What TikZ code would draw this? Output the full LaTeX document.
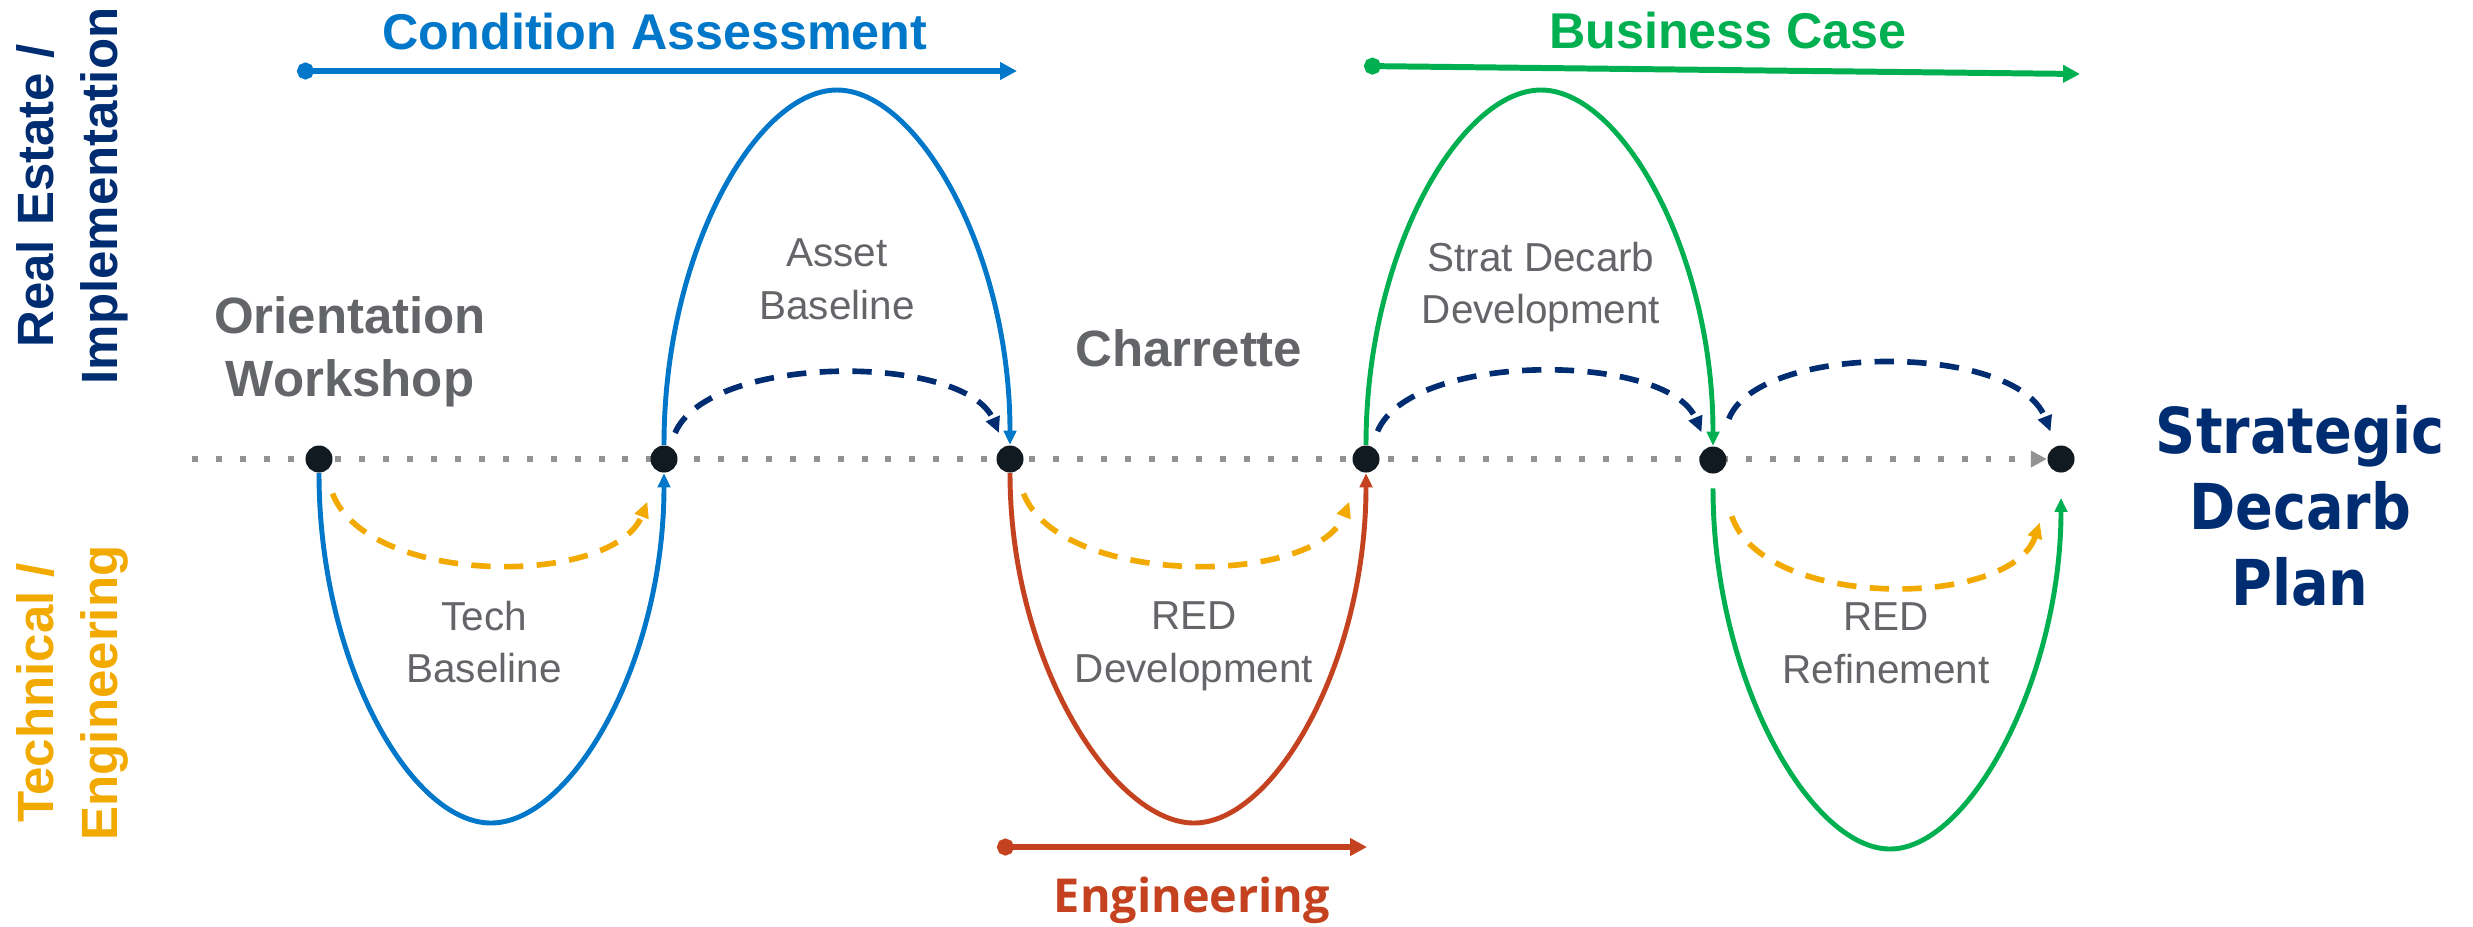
\documentclass[tikz,border=0pt]{standalone}
\usepackage{fontspec}
\setmainfont{Liberation Sans}
\newfontfamily\planfont{DejaVu Sans}[FakeStretch=0.88]
\newfontfamily\engfont{Open Sans}
\usetikzlibrary{arrows.meta, calc, backgrounds}

\definecolor{navyblue}{HTML}{002D72}
\definecolor{ourblue}{HTML}{0077C8}
\definecolor{ourgreen}{HTML}{00B050}
\definecolor{ourred}{HTML}{C4421F}
\definecolor{ourorange}{HTML}{F2A900}
\definecolor{labelgray}{HTML}{636569}
\definecolor{dotgray}{HTML}{121A21}
\definecolor{axisgray}{HTML}{929292}

\begin{document}
\begin{tikzpicture}[
  x=0.01cm, y=-0.01cm,
  dot/.style = {circle, fill=dotgray, inner sep=0pt, minimum size=0.27cm},
  phase/.style = {font=\fontsize{14.3}{17}\selectfont\bfseries},
  milestone/.style = {align=center, text=labelgray, font=\fontsize{14.5}{18}\selectfont\bfseries},
  sublabel/.style = {align=center, text=labelgray, font=\fontsize{11.5}{15}\selectfont},
  side/.style = {rotate=90, align=center, font=\fontsize{14.5}{18.2}\selectfont\bfseries},
  track/.style = {line width=1.7pt, {Circle[length=4.8pt]}-{Triangle[length=4.8pt,width=4.8pt]}},
  swing/.style = {line width=1.4pt, -{Triangle[length=4pt,width=3.5pt]}},
  hop/.style = {line width=1.6pt, dash pattern=on 5.5pt off 3.8pt, -{Triangle[length=4.5pt,width=4pt]}},
  timeline/.style = {draw=axisgray, line width=1.7pt, dash pattern=on 1.7pt off 5.1pt, -{Triangle[length=4.5pt,width=4.5pt]}}
]
\useasboundingbox (0,0) rectangle (2473,926);

% Side labels
\node[side, text=navyblue] (re) at (72,196) {Real Estate /\\Implementation};
\node[side, text=ourorange] (te) at (72,693) {Technical /\\Engineering};

% Milestones on the timeline
\node[dot] (d1) at (319,459) {};
\node[dot] (d2) at (664,459) {};
\node[dot] (d3) at (1010,459) {};
\node[dot] (d4) at (1366,459) {};
\node[dot] (d5) at (1713,460) {};
\node[dot] (d6) at (2061,459) {};

\node[milestone] (ow) at (350,352) {Orientation\\Workshop};
\node[milestone, anchor=base] (ch) at (1189,366) {Charrette};
\node[align=center, text=navyblue, font=\planfont\fontsize{18}{21.6}\selectfont\bfseries] (sdp) at (2300,506) {Strategic\\Decarb\\Plan};

% Step labels inside the swings
\node[sublabel] (ab) at (837,279) {Asset\\Baseline};
\node[sublabel] (tb) at (484,642) {Tech\\Baseline};
\node[sublabel] (rd) at (1194,646) {RED\\Development};
\node[sublabel] (sd) at (1541,287) {Strat Decarb\\Development};
\node[sublabel] (rr) at (1886,643) {RED\\Refinement};

% Phase tracks
\node[phase, text=ourblue, anchor=base] (ca) at (655,49) {Condition Assessment};
\node[phase, text=ourgreen, anchor=base] (bc) at (1728,48) {Business Case};
\node[font=\engfont\fontsize{13.3}{16}\selectfont\bfseries, text=ourred, anchor=base] (eng) at (1192,912) {Engineering};

\coordinate (ca-start) at (297,71);
\coordinate (ca-end) at (1017,71);
\coordinate (bc-start) at (1364,66);
\coordinate (bc-end) at (2080,74);
\coordinate (eng-start) at (997,847);
\coordinate (eng-end) at (1367,847);

\draw[track, ourblue] (ca-start) -- (ca-end);
\draw[track, ourgreen] (bc-start) -- (bc-end);
\draw[track, ourred] (eng-start) -- (eng-end);

% Timeline
\coordinate (axis-start) at (192,459);
\begin{scope}[on background layer]
\draw[timeline] (axis-start) -- (d6);
\end{scope}

% Swings between milestones
\coordinate (tb-low) at (491,823);
\coordinate (ab-top) at (837,90);
\coordinate (rd-low) at (1194,823);
\coordinate (sd-top) at (1541,90);
\coordinate (rr-low) at (1890,849);

\draw[swing, ourblue] (d1.south) .. controls +(0,190) and +(-80,0) .. (tb-low) .. controls +(80,0) and +(0,190) .. (d2.south);
\draw[swing, ourblue] (d2.north) .. controls +(0,-194) and +(-80,0) .. (ab-top) .. controls +(80,0) and +(0,-194) .. (d3.north);
\draw[swing, ourred] (d3.south) .. controls +(0,190) and +(-80,0) .. (rd-low) .. controls +(80,0) and +(0,190) .. (d4.south);
\draw[swing, ourgreen] (d4.north) .. controls +(0,-194) and +(-80,0) .. (sd-top) .. controls +(80,0) and +(0,-194) .. (d5.north);
\draw[swing, ourgreen, shorten <=4pt, shorten >=7pt] (d5.south) .. controls +(0,204) and +(-80,0) .. (rr-low) .. controls +(80,0) and +(0,204) .. (d6.south);

% Dashed hops
\draw[hop, navyblue, shorten <=4pt, shorten >=4pt] (d2) .. controls +(45,-106) and +(-45,-106) .. (d3);
\draw[hop, navyblue, shorten <=4.5pt, shorten >=4.5pt] (d4) .. controls +(45,-108) and +(-45,-108) .. (d5);
\draw[hop, navyblue, shorten <=8.5pt, shorten >=4.3pt] (d5) .. controls +(45,-117) and +(-45,-117) .. (d6);
\draw[hop, ourorange, shorten <=6.5pt, shorten >=9pt] (d1) .. controls +(50,128) and +(-50,128) .. (d2);
\draw[hop, ourorange, shorten <=6.5pt, shorten >=9pt] (d3) .. controls +(50,128) and +(-50,128) .. (d4);
\draw[hop, ourorange, shorten <=12.8pt, shorten >=15pt] (d5) .. controls +(50,150) and +(-50,150) .. (d6);

\end{tikzpicture}
\end{document}
